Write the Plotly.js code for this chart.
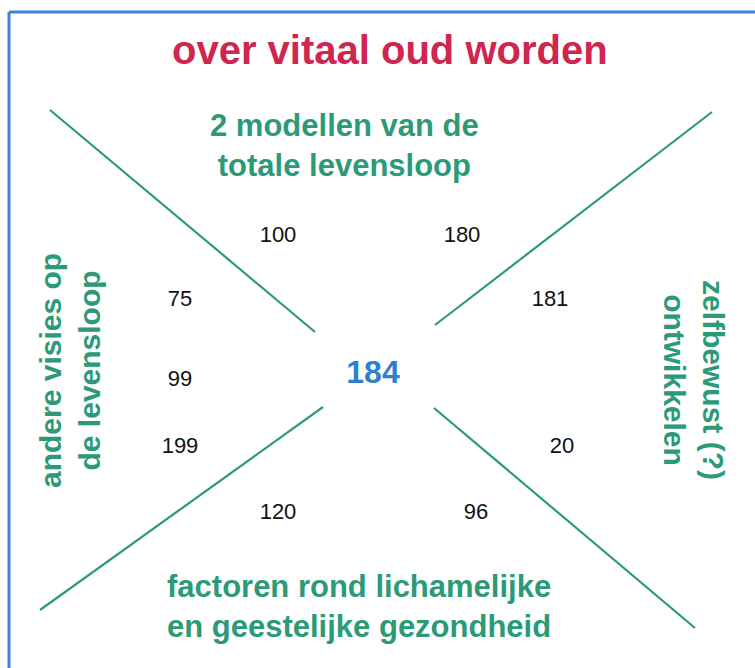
<!DOCTYPE html>
<html><head><meta charset="utf-8">
<script src="https://cdn.plot.ly/plotly-3.0.1.min.js"></script>
<style>html,body{margin:0;padding:0;background:#fff;}#chart{width:755px;height:668px;}</style>
</head><body><div id="chart"></div>
<script>
// Diagram content
const titleText = "over vitaal oud worden";
const centerLabel = "184";
const numberLabels = ["100", "180", "75", "181", "99", "199", "20", "120", "96"];
const numberX = [278, 462, 180, 550, 180, 180, 562, 278, 476];
const numberY = [236, 236, 300, 300, 380, 447, 447, 513, 513];
const themeTop = "2 modellen van de<br>totale levensloop";
const themeBottom = "factoren rond lichamelijke<br>en geestelijke gezondheid";
const themeLeft = "andere visies op<br>de levensloop";
const themeRight = "zelfbewust (?)<br>ontwikkelen";
// diagonal arms: [x0,x1],[y0,y1]
const armsX = [[50, 315], [712, 435], [40, 323], [434, 695]];
const armsY = [[110, 332], [112, 325], [610, 407], [408, 628]];

const green = "#2c9a77";
const font = "Liberation Sans, Arial, sans-serif";

const traces = armsX.map((ax, i) => ({
  type: "scatter", mode: "lines", x: ax, y: armsY[i],
  line: {color: green, width: 2.2}, hoverinfo: "skip", showlegend: false
}));
traces.push({
  type: "scatter", mode: "text", x: numberX, y: numberY, text: numberLabels,
  textfont: {family: font, size: 22, color: "#111"}, textposition: "middle center",
  hoverinfo: "skip", showlegend: false
});
traces.push({
  type: "scatter", mode: "text", x: [373], y: [375], text: [centerLabel],
  textfont: {family: font, size: 32, color: "#2f7fcf", weight: "bold"}, textposition: "middle center",
  hoverinfo: "skip", showlegend: false
});

const layout = {
  width: 755, height: 668,
  margin: {l: 0, r: 0, t: 0, b: 0},
  paper_bgcolor: "#fff", plot_bgcolor: "#fff",
  xaxis: {range: [0, 755], visible: false, fixedrange: true},
  yaxis: {range: [668, 0], visible: false, fixedrange: true},
  showlegend: false,
  shapes: [
    {type: "line", xref: "x", yref: "y", x0: 9, x1: 9, y0: 12, y1: 668, line: {color: "#3a86d0", width: 3}},
    {type: "line", xref: "x", yref: "y", x0: 9, x1: 755, y0: 12, y1: 12, line: {color: "#3a86d0", width: 3}}
  ],
  annotations: [
    {x: 390, y: 50, xref: "x", yref: "y", text: titleText, showarrow: false,
     font: {family: font, size: 40, color: "#cf2650", weight: "bold"}},
    {x: 344, y: 145, xref: "x", yref: "y", text: themeTop, showarrow: false,
     font: {family: font, size: 31, color: green, weight: "bold"}},
    {x: 359, y: 606, xref: "x", yref: "y", text: themeBottom, showarrow: false,
     font: {family: font, size: 31, color: green, weight: "bold"}},
    {x: 70, y: 371, xref: "x", yref: "y", text: themeLeft, showarrow: false, textangle: -90,
     font: {family: font, size: 30, color: green, weight: "bold"}},
    {x: 694, y: 380, xref: "x", yref: "y", text: themeRight, showarrow: false, textangle: 90,
     font: {family: font, size: 30, color: green, weight: "bold"}}
  ]
};
Plotly.newPlot("chart", traces, layout, {staticPlot: true, displayModeBar: false});
</script></body></html>
